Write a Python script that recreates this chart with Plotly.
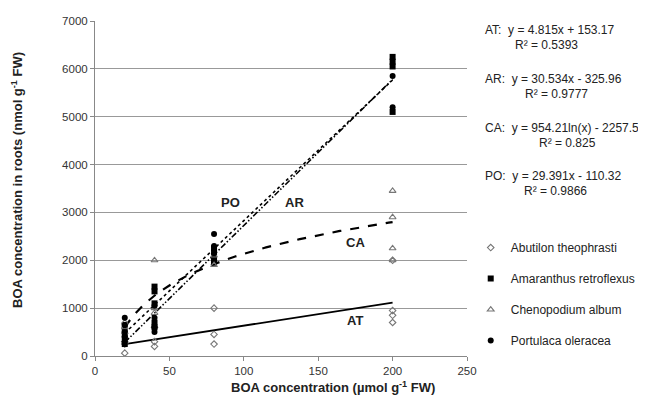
import numpy as np
import plotly.graph_objects as go

# ---- data ----
at_x = [20, 20, 20, 40, 40, 40, 80, 80, 80, 200, 200, 200, 200]
at_y = [60, 250, 300, 200, 300, 600, 250, 450, 1000, 700, 850, 950, 2000]

ar_x = [20, 20, 20, 20, 20, 40, 40, 40, 40, 40, 80, 80, 80, 80, 200, 200, 200, 200]
ar_y = [250, 350, 450, 550, 650, 1450, 1350, 1100, 700, 600, 1950, 2000, 2100, 2250, 6250, 6150, 6050, 5100]

ca_x = [20, 20, 20, 40, 40, 40, 80, 80, 200, 200, 200, 200]
ca_y = [700, 600, 500, 2000, 1000, 900, 1900, 2100, 3450, 2900, 2250, 2000]

po_x = [20, 20, 20, 20, 40, 40, 40, 40, 80, 80, 80, 80, 200, 200]
po_y = [800, 650, 500, 400, 1050, 800, 600, 500, 2550, 2300, 2200, 2150, 5850, 5200]

species = ["Abutilon theophrasti", "Amaranthus retroflexus", "Chenopodium album", "Portulaca oleracea"]

# fitted equations shown in the chart
at_fit = (4.815, 153.17)
ar_fit = (30.534, -325.96)
ca_fit = (954.21, -2257.5)
po_fit = (29.391, -110.32)
fit_range = (20, 200)

eq_texts = [
    ("AT:&nbsp;&nbsp;y = 4.815x + 153.17", "R² = 0.5393"),
    ("AR:&nbsp;&nbsp;y = 30.534x - 325.96", "R² = 0.9777"),
    ("CA:&nbsp;&nbsp;y = 954.21ln(x) - 2257.5", "R² = 0.825"),
    ("PO:&nbsp;&nbsp;y = 29.391x - 110.32", "R² = 0.9866"),
]

x_title = "<b>BOA concentration (µmol g<sup>-1</sup> FW)</b>"
y_title = "<b>BOA concentration in roots (nmol g<sup>-1</sup> FW)</b>"

FONT = "Liberation Sans, Arial, sans-serif"
TXT = "#222222"
fig = go.Figure()

xf = np.linspace(fit_range[0], fit_range[1], 200)
fig.add_trace(go.Scatter(x=xf, y=at_fit[0] * xf + at_fit[1], mode="lines",
                         line=dict(color="black", width=1.8, dash="solid"), showlegend=False))
fig.add_trace(go.Scatter(x=xf, y=ar_fit[0] * xf + ar_fit[1], mode="lines",
                         line=dict(color="black", width=1.6, dash="6px,2px,1.5px,2px,1.5px,2px"), showlegend=False))
fig.add_trace(go.Scatter(x=xf, y=ca_fit[0] * np.log(xf) + ca_fit[1], mode="lines",
                         line=dict(color="black", width=2.2, dash="dash"), showlegend=False))
fig.add_trace(go.Scatter(x=xf, y=po_fit[0] * xf + po_fit[1], mode="lines",
                         line=dict(color="black", width=1.6, dash="dot"), showlegend=False))

fig.add_trace(go.Scatter(x=at_x, y=at_y, mode="markers", name=species[0], legendgroup="a",
                         marker=dict(symbol="diamond-open", size=5, color="#777777", line=dict(width=1.1))))
fig.add_trace(go.Scatter(x=ar_x, y=ar_y, mode="markers", name=species[1], legendgroup="b",
                         marker=dict(symbol="square", size=6, color="black")))
fig.add_trace(go.Scatter(x=ca_x, y=ca_y, mode="markers", name=species[2], legendgroup="c",
                         marker=dict(symbol="triangle-up-open", size=6, color="#777777", line=dict(width=1.1))))
fig.add_trace(go.Scatter(x=po_x, y=po_y, mode="markers", name=species[3], legendgroup="d",
                         marker=dict(symbol="circle", size=6, color="black")))

# labels on lines
for txt, x, y in [("PO", 91, 3200), ("AR", 134, 3200), ("CA", 175, 2370), ("AT", 175, 750)]:
    fig.add_annotation(x=x, y=y, text=f"<b>{txt}</b>", showarrow=False,
                       font=dict(family=FONT, size=13, color=TXT))

# equation texts
eq_y = [(30, 45), (79, 94), (128, 143), (176, 191)]
eq_x2 = [513, 523, 537, 522]
for (t1, t2), (y1, y2), x2 in zip(eq_texts, eq_y, eq_x2):
    fig.add_annotation(xref="paper", yref="paper", x=(483 - 95) / 372, y=(356 - y1) / 335,
                       text=t1, showarrow=False, xanchor="left", yanchor="middle",
                       font=dict(family=FONT, size=12, color=TXT))
    fig.add_annotation(xref="paper", yref="paper", x=(x2 - 95) / 372, y=(356 - y2) / 335,
                       text=t2, showarrow=False, xanchor="left", yanchor="middle",
                       font=dict(family=FONT, size=12, color=TXT))

# axis titles
fig.add_annotation(xref="paper", yref="paper", x=(333 - 95) / 372, y=(356 - 387) / 335,
                   text=x_title, showarrow=False, xanchor="center", yanchor="middle",
                   font=dict(family=FONT, size=13, color=TXT))
fig.add_annotation(xref="paper", yref="paper", x=(17 - 95) / 372, y=(356 - 180) / 335,
                   text=y_title, showarrow=False, xanchor="center", yanchor="middle",
                   textangle=-90, font=dict(family=FONT, size=13, color=TXT))

fig.update_layout(
    width=638, height=392,
    margin=dict(l=87, r=179, t=13, b=44, autoexpand=False),
    paper_bgcolor="white", plot_bgcolor="white",
    font=dict(family=FONT, size=11.5, color="#333333"),
    legend=dict(x=1.01, y=0.367, xanchor="left", yanchor="top",
                font=dict(family=FONT, size=12, color=TXT),
                tracegroupgap=12, bgcolor="rgba(0,0,0,0)"),
    xaxis=dict(range=[0, 250], tickvals=[0, 50, 100, 150, 200, 250], showgrid=False,
               showline=True, linecolor="#888888", ticks="outside", tickcolor="#888888",
               ticklen=4, zeroline=False, automargin=False),
    yaxis=dict(range=[0, 7000], tickvals=list(range(0, 7001, 1000)), showgrid=True,
               gridcolor="#999999", gridwidth=1,
               showline=True, linecolor="#888888", ticks="outside", tickcolor="#888888",
               ticklen=4, zeroline=False, automargin=False),
)

fig.write_html("out.html")
